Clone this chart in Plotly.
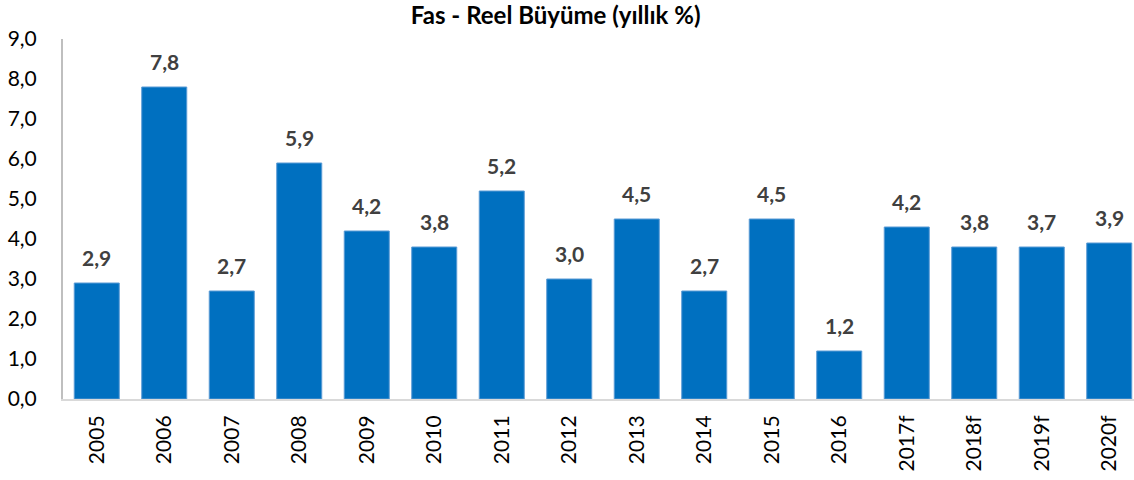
import plotly.graph_objects as go

categories = ["2005", "2006", "2007", "2008", "2009", "2010", "2011", "2012",
              "2013", "2014", "2015", "2016", "2017f", "2018f", "2019f", "2020f"]
values = [2.9, 7.8, 2.7, 5.9, 4.2, 3.8, 5.2, 3.0, 4.5, 2.7, 4.5, 1.2, 4.3, 3.8, 3.8, 3.9]
labels = ["2,9", "7,8", "2,7", "5,9", "4,2", "3,8", "5,2", "3,0", "4,5", "2,7",
          "4,5", "1,2", "4,2", "3,8", "3,7", "3,9"]
y_ticks = [0, 1, 2, 3, 4, 5, 6, 7, 8, 9]

FONT = "Lato"

fig = go.Figure()
fig.add_trace(go.Bar(
    x=list(range(len(categories))), y=values,
    width=0.667,
    marker=dict(color="#0070C0", line=dict(color="#5B9BD5", width=1)),
    hoverinfo="skip",
))

for i, (v, t) in enumerate(zip(values, labels)):
    fig.add_annotation(x=i, y=v, text=t, showarrow=False, yshift=26,
                       font=dict(family=FONT, size=21, color="#404040", weight="bold"))

fig.update_layout(
    width=1134, height=480,
    margin=dict(l=63, r=0, t=39, b=81),
    paper_bgcolor="white", plot_bgcolor="white",
    separators=",.",
    showlegend=False,
    title=dict(text="<b>Fas - Reel Büyüme (yıllık %)</b>", x=0.49, xanchor="center",
               y=0.968, yanchor="middle",
               font=dict(family=FONT, size=24, color="#000000")),
)
fig.update_xaxes(
    range=[-0.5, -0.5 + 1071 / 67.5],
    tickmode="array", tickvals=list(range(len(categories))), ticktext=categories,
    tickangle=-90, showgrid=False, zeroline=False,
    showline=True, linecolor="#D9D9D9", linewidth=2,
    tickfont=dict(family=FONT, size=21, color="#000000"),
    ticks="", ticklen=0, ticklabelstandoff=6,
)
fig.update_yaxes(
    range=[0, 9], tickvals=y_ticks, tickformat=".1f",
    showgrid=False, zeroline=False,
    showline=True, linecolor="#BFBFBF", linewidth=2,
    tickfont=dict(family=FONT, size=21, color="#000000"),
    ticks="", ticklen=0, ticklabelstandoff=20,
)

fig.write_html("out.html", config={"displayModeBar": False},
               post_script="document.body.style.margin='0px';")
